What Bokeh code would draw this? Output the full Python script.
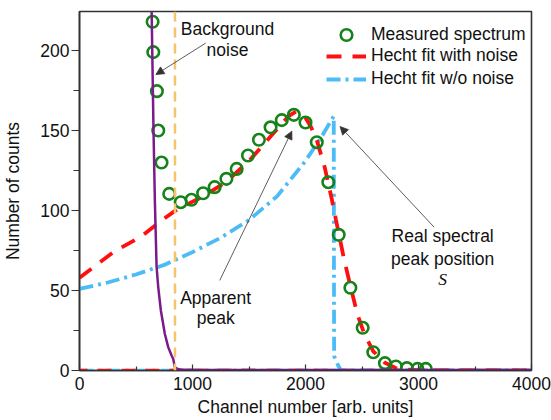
from bokeh.plotting import figure
from bokeh.models import (Range1d, Label, Arrow, NormalHead, Legend, LegendItem,
                          FixedTicker, Span)
from bokeh.embed import file_html
from bokeh.resources import INLINE

FONT = "Liberation Sans"
FS = "17.5px"

# Measured spectrum (channel, counts)
meas_x = [647, 653, 685, 697, 726, 794, 896, 991, 1094, 1196, 1300, 1391, 1491,
          1588, 1691, 1790, 1897, 2000, 2100, 2202, 2294, 2397, 2506, 2600,
          2703, 2800, 2897, 2991, 3065]
meas_y = [218, 199, 174.6, 150, 130, 110.4, 105.2, 106.7, 110.8, 114.6, 119.8,
          126, 134.4, 144.2, 152, 156.5, 159.8, 155, 142.7, 117.7, 84.8, 51.7,
          26.7, 11.4, 4.6, 2.5, 1.5, 1, 1]

# Hecht fit including noise broadening
fit_noise_x = [0, 300, 550, 730, 870, 1100, 1300, 1500, 1700, 1850, 1920, 2000,
               2050, 2100, 2170, 2230, 2270, 2340, 2400, 2460, 2520, 2600, 2700,
               2800, 2900, 3000, 4000]
fit_noise_y = [58, 74, 84, 94, 101, 109, 118, 131, 147, 159, 162, 158, 152, 144,
               127, 108, 94, 70, 52, 35, 23, 12, 5, 1.5, 0.5, 0, 0]

# Hecht fit without noise (sharp edge at the peak position S)
fit_clean_x = [0, 250, 500, 750, 1000, 1250, 1500, 1750, 2000, 2150, 2250, 2253,
               2290, 2315, 4000]
fit_clean_y = [51, 55, 60, 66, 74, 83, 94, 109, 131, 147, 159, 9, 3, 0, 0]

# Zero level of both fit curves across the full channel range
zero_x = [0, 4000]
zero_y = [0, 0]

# Background noise
noise_x = [638, 655, 667, 682, 697, 720, 755, 785, 815, 829, 844, 870, 900,
           1000, 2000, 3000, 4000]
noise_y = [226, 150, 106, 65, 52, 37.5, 23, 14.6, 9.4, 7.3, 2, 1, 0.5, 0.4,
           0.3, 0.3, 0.3]

# Lower-level discriminator channel
threshold_x = 845

x_ticks = [0, 1000, 2000, 3000, 4000]
y_ticks = [0, 50, 100, 150, 200]

RED = "#ff1010"
BLUE = "#4cbcf7"
GREEN = "#16821a"
PURPLE = "#7a1a8c"
ORANGE = "#f5c46c"
INK = "#333333"

p = figure(width=551, height=420, output_backend="svg", toolbar_location=None,
           x_range=Range1d(0, 4000), y_range=Range1d(0, 224.4),
           min_border_left=78, min_border_right=20, min_border_top=11,
           min_border_bottom=50, background_fill_color="white",
           border_fill_color="white")

p.xgrid.visible = False
p.ygrid.visible = False
p.outline_line_color = INK
p.outline_line_width = 1.6

p.xaxis.ticker = FixedTicker(ticks=x_ticks, minor_ticks=[500, 1500, 2500, 3500])
p.yaxis.ticker = FixedTicker(ticks=y_ticks, minor_ticks=[25, 75, 125, 175, 225])

for ax in (p.xaxis, p.yaxis):
    ax.axis_line_color = INK
    ax.axis_line_width = 1.6
    ax.major_tick_line_color = INK
    ax.minor_tick_line_color = INK
    ax.major_tick_line_width = 1.2
    ax.minor_tick_line_width = 1.2
    ax.major_label_text_font = FONT
    ax.major_label_text_font_size = FS
    ax.major_label_text_color = "#111111"
    ax.axis_label_text_font = FONT
    ax.axis_label_text_font_size = FS
    ax.axis_label_text_font_style = "normal"
    ax.axis_label_text_color = "#111111"

p.xaxis.major_tick_in = 6
p.xaxis.major_tick_out = 0
p.xaxis.minor_tick_in = 4
p.xaxis.minor_tick_out = 0
p.xaxis.major_label_standoff = 6
p.xaxis.axis_label = "Channel number [arb. units]"
p.xaxis.axis_label_standoff = 4

p.yaxis.major_tick_in = 0
p.yaxis.major_tick_out = 8
p.yaxis.minor_tick_in = 0
p.yaxis.minor_tick_out = 6
p.yaxis.major_label_standoff = 2
p.yaxis.axis_label = "Number of counts"
p.yaxis.axis_label_standoff = 14

# threshold line
p.add_layout(Span(location=threshold_x, dimension="height", line_color=ORANGE,
                  line_width=2.5, line_dash="10 6"))

# zero level of the fits
p.line(zero_x, zero_y, line_color=BLUE, line_width=3.5, line_dash="14 5 3 5")
p.line(zero_x, zero_y, line_color=RED, line_width=3.5, line_dash="14 10",
       line_dash_offset=6)

r_clean = p.line(fit_clean_x, fit_clean_y, line_color=BLUE, line_width=3.8,
                 line_dash="14 5 3 5")
r_noise = p.line(fit_noise_x, fit_noise_y, line_color=RED, line_width=3.8,
                 line_dash="15 11")
r_meas = p.scatter(meas_x, meas_y, marker="circle", size=11.5, fill_color=None,
                   line_color=GREEN, line_width=2.6)
p.line(noise_x, noise_y, line_color=PURPLE, line_width=2.5)

legend_style = dict(border_line_color=None, background_fill_alpha=0,
                    glyph_width=40, label_height=20, spacing=2, padding=0,
                    margin=0, label_standoff=5, label_text_font=FONT,
                    label_text_font_size=FS, label_text_color="#111111")

# the marker entry gets a taller glyph box so its circle is drawn full size
marker_legend = Legend(items=[LegendItem(label="Measured spectrum",
                                         renderers=[r_meas])],
                       location=(247, 321), glyph_height=29, **legend_style)
line_legend = Legend(items=[LegendItem(label="Hecht fit with noise",
                                       renderers=[r_noise]),
                            LegendItem(label="Hecht fit w/o noise",
                                       renderers=[r_clean])],
                     location=(247, 281), glyph_height=20, **legend_style)
p.add_layout(marker_legend)
p.add_layout(line_legend)


def note(x, y, text, font=FONT, style="normal"):
    p.add_layout(Label(x=x, y=y, text=text, text_font=font, text_font_size=FS,
                       text_font_style=style, text_align="center",
                       text_baseline="middle", text_color="#111111"))


def pointer(x0, y0, x1, y1):
    p.add_layout(Arrow(end=NormalHead(size=8, fill_color=INK, line_color=INK,
                                      line_width=0.8),
                       x_start=x0, y_start=y0, x_end=x1, y_end=y1,
                       line_color=INK, line_width=0.8))


note(1310, 213.4, "Background")
note(1310, 200.6, "noise")
pointer(1116, 204.6, 676, 185)

note(1205, 45.6, "Apparent")
note(1205, 33.1, "peak")
pointer(1241, 56.3, 1879, 149.6)

note(3214, 83.8, "Real spectral")
note(3214, 70.0, "peak position")
note(3214, 57.5, "S", font="Liberation Serif", style="italic")
pointer(3138, 89.6, 2306, 152.5)

open("out.html", "w").write(file_html(p, INLINE))
